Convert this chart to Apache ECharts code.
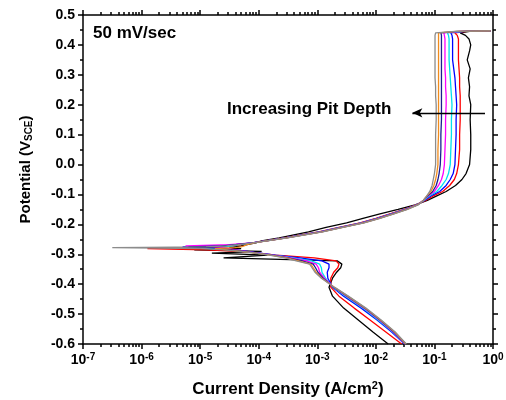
<!DOCTYPE html>
<html>
<head>
<meta charset="utf-8">
<script src="https://cdn.jsdelivr.net/npm/echarts@6/dist/echarts.min.js"></script>
<style>
	html, body { margin: 0; padding: 0; background: #fff; }
	#main { width: 506px; height: 400px; }
</style>
</head>
<body>
<div id="main"></div>
<script>
	'use strict';

	// potential (V vs SCE), same scan for every curve
	var potential = [-0.60, -0.56, -0.52, -0.48, -0.44, -0.41, -0.38, -0.36, -0.345, -0.333,
		-0.322, -0.312, -0.303, -0.296, -0.290, -0.285, -0.281, -0.278, -0.275, -0.272,
		-0.268, -0.262, -0.255, -0.245, -0.235, -0.225, -0.21, -0.195, -0.18, -0.165,
		-0.15, -0.135, -0.12, -0.105, -0.09, -0.07, -0.05, -0.03, 0.00, 0.05,
		0.10, 0.15, 0.20, 0.23, 0.26, 0.29, 0.32, 0.35, 0.38, 0.40,
		0.42, 0.432, 0.44, 0.445, 0.447];

	// log10 of current density (A/cm2)
	var logJBlack = [-1.79, -2.05, -2.30, -2.55, -2.74, -2.80, -2.74, -2.67, -2.60, -2.58,
		-2.66, -4.60, -3.85, -4.80, -3.95, -5.10, -4.30, -4.50, -4.40, -4.30,
		-4.20, -4.05, -3.95, -3.65, -3.40, -3.15, -2.85, -2.50, -2.22, -1.93,
		-1.62, -1.33, -1.12, -0.96, -0.80, -0.64, -0.53, -0.46, -0.40, -0.38,
		-0.38, -0.39, -0.38, -0.41, -0.40, -0.42, -0.39, -0.44, -0.40, -0.38,
		-0.41, -0.47, -0.56, -0.40, -0.04];
	var logJRed = [-1.56, -1.83, -2.10, -2.37, -2.63, -2.77, -2.77, -2.72, -2.65, -2.63,
		-2.68, -3.05, -3.70, -4.00, -4.30, -4.90, -5.90, -4.80, -4.55, -4.45,
		-4.30, -4.10, -3.90, -3.57, -3.28, -2.98, -2.63, -2.27, -2.00, -1.76,
		-1.52, -1.31, -1.15, -1.02, -0.86, -0.74, -0.66, -0.62, -0.59, -0.57,
		-0.57, -0.56, -0.56, -0.56, -0.57, -0.57, -0.58, -0.59, -0.59, -0.59,
		-0.59, -0.61, -0.65, -0.45, -0.04];
	var logJBlue = [-1.51, -1.73, -1.98, -2.25, -2.55, -2.74, -2.82, -2.83, -2.80, -2.80,
		-2.92, -3.30, -3.72, -3.98, -4.20, -4.40, -4.55, -4.80, -5.30, -4.65,
		-4.40, -4.10, -3.88, -3.55, -3.26, -2.96, -2.61, -2.25, -1.98, -1.74,
		-1.50, -1.30, -1.17, -1.06, -0.91, -0.80, -0.73, -0.68, -0.65, -0.64,
		-0.63, -0.63, -0.62, -0.63, -0.64, -0.65, -0.67, -0.69, -0.69, -0.69,
		-0.69, -0.70, -0.72, -0.48, -0.04];
	var logJCyan = [-1.50, -1.71, -1.96, -2.22, -2.52, -2.73, -2.86, -2.92, -2.93, -2.96,
		-3.10, -3.40, -3.74, -4.00, -4.25, -4.50, -4.70, -4.95, -4.60, -4.45,
		-4.35, -4.10, -3.88, -3.55, -3.25, -2.95, -2.60, -2.24, -1.97, -1.73,
		-1.50, -1.30, -1.18, -1.09, -0.96, -0.87, -0.80, -0.76, -0.73, -0.72,
		-0.71, -0.71, -0.70, -0.71, -0.72, -0.73, -0.74, -0.75, -0.75, -0.75,
		-0.75, -0.76, -0.78, -0.50, -0.04];
	var logJMagenta = [-1.50, -1.70, -1.94, -2.20, -2.50, -2.72, -2.88, -2.96, -2.98, -3.02,
		-3.18, -3.45, -3.75, -4.00, -4.22, -4.40, -4.50, -4.65, -4.90, -5.25,
		-4.50, -4.12, -3.87, -3.54, -3.24, -2.94, -2.59, -2.23, -1.96, -1.72,
		-1.49, -1.30, -1.19, -1.11, -1.00, -0.93, -0.88, -0.85, -0.83, -0.82,
		-0.81, -0.81, -0.80, -0.80, -0.81, -0.81, -0.82, -0.82, -0.82, -0.82,
		-0.82, -0.83, -0.84, -0.55, -0.04];
	var logJNavy = [-1.49, -1.69, -1.93, -2.19, -2.49, -2.72, -2.90, -2.99, -3.03, -3.07,
		-3.26, -3.50, -3.77, -4.02, -4.25, -4.45, -4.60, -4.85, -5.20, -4.60,
		-4.40, -4.12, -3.87, -3.53, -3.23, -2.93, -2.58, -2.22, -1.95, -1.71,
		-1.48, -1.29, -1.19, -1.12, -1.03, -0.97, -0.94, -0.92, -0.90, -0.89,
		-0.89, -0.88, -0.88, -0.88, -0.88, -0.88, -0.88, -0.88, -0.88, -0.88,
		-0.88, -0.88, -0.89, -0.60, -0.04];
	var logJOrange = [-1.49, -1.68, -1.92, -2.18, -2.48, -2.71, -2.92, -3.02, -3.07, -3.11,
		-3.32, -3.52, -3.80, -4.05, -4.30, -4.55, -4.75, -4.40, -4.30, -4.25,
		-4.20, -4.08, -3.86, -3.52, -3.22, -2.92, -2.57, -2.21, -1.94, -1.70,
		-1.47, -1.29, -1.19, -1.13, -1.06, -1.01, -0.98, -0.96, -0.94, -0.94,
		-0.93, -0.93, -0.93, -0.93, -0.93, -0.93, -0.93, -0.93, -0.93, -0.93,
		-0.93, -0.93, -0.93, -0.62, -0.04];
	var logJGray = [-1.48, -1.67, -1.91, -2.17, -2.47, -2.71, -2.93, -3.04, -3.09, -3.13,
		-3.36, -3.55, -3.82, -4.05, -4.30, -4.60, -5.00, -6.50, -4.90, -4.55,
		-4.35, -4.10, -3.86, -3.51, -3.21, -2.91, -2.56, -2.20, -1.93, -1.69,
		-1.46, -1.28, -1.19, -1.13, -1.08, -1.04, -1.02, -1.00, -0.98, -0.98,
		-0.98, -0.97, -0.97, -0.98, -0.98, -0.99, -0.99, -0.99, -0.99, -0.99,
		-0.99, -0.99, -0.98, -0.65, -0.04];

	var curves = [logJBlack, logJRed, logJBlue, logJCyan, logJMagenta, logJNavy, logJOrange, logJGray];
	var curveColors = ['#000000', '#ff0000', '#0000ff', '#00e0f0', '#ff00ff', '#1c1c8f', '#f08c1e', '#8c8c8c'];

	// x axis decades and the arrow annotation (current, potential)
	var decades = [1e-7, 1e-6, 1e-5, 1e-4, 1e-3, 1e-2, 1e-1, 1];
	var arrowFrom = [0.73, 0.173];
	var arrowTo = [0.042, 0.173];

	var minorTicks = [];
	for (var d = 0; d < decades.length - 1; d++) {
		for (var k = 2; k <= 9; k++) {
			minorTicks.push(decades[d] * k);
		}
	}

	var font = '"Liberation Sans", Arial, sans-serif';
	var tickStyle = { color: '#000', width: 1.5 };

	function xAxis(position, ticks, len, showLine, showLabel) {
		return {
			type: 'log',
			logBase: 10,
			min: 1e-7,
			max: 1,
			position: position,
			axisLine: { show: showLine, onZero: false, lineStyle: tickStyle },
			axisTick: { show: true, length: len, customValues: ticks, lineStyle: tickStyle },
			axisLabel: {
				show: showLabel,
				customValues: decades,
				margin: 8,
				fontFamily: font,
				formatter: function (v) {
					return '{b|10}{s|' + Math.round(Math.log10(v)) + '}';
				},
				rich: {
					b: { fontSize: 14, fontWeight: 'bold', color: '#000', fontFamily: font },
					s: { fontSize: 10, fontWeight: 'bold', color: '#000', fontFamily: font, verticalAlign: 'top', padding: [0, 0, 6, 0] }
				}
			},
			splitLine: { show: false },
			minorTick: { show: false }
		};
	}

	function yAxis(position, showLabel) {
		return {
			type: 'value',
			min: -0.6,
			max: 0.5,
			interval: 0.1,
			position: position,
			axisLine: { show: true, onZero: false, lineStyle: tickStyle },
			axisTick: { show: true, length: 5, lineStyle: tickStyle },
			minorTick: { show: true, splitNumber: 2, length: 3, lineStyle: tickStyle },
			axisLabel: {
				show: showLabel,
				margin: 8,
				color: '#000',
				fontSize: 14,
				fontWeight: 'bold',
				fontFamily: font,
				formatter: function (v) { return v.toFixed(1); }
			},
			splitLine: { show: false }
		};
	}

	var xAxes = [
		xAxis('bottom', decades, 5, true, true),
		xAxis('bottom', minorTicks, 3, false, false),
		xAxis('top', decades, 5, true, false),
		xAxis('top', minorTicks, 3, false, false)
	];
	xAxes[0].name = '{a|Current Density (A/cm}{s|2}{a|)}';
	xAxes[0].nameLocation = 'middle';
	xAxes[0].nameGap = 36;
	xAxes[0].nameTextStyle = {
		rich: {
			a: { fontSize: 17, fontWeight: 'bold', color: '#000', fontFamily: font },
			s: { fontSize: 11, fontWeight: 'bold', color: '#000', fontFamily: font, verticalAlign: 'top', padding: [0, 0, 7, 0] }
		}
	};

	var yAxes = [yAxis('left', true), yAxis('right', false)];
	yAxes[0].name = '{a|Potential (V}{b|SCE}{a|)}';
	yAxes[0].nameLocation = 'middle';
	yAxes[0].nameRotate = 90;
	yAxes[0].nameGap = 49;
	yAxes[0].nameTextStyle = {
		padding: [0, 0, 0, 20],
		rich: {
			a: { fontSize: 15, fontWeight: 'bold', color: '#000', fontFamily: font },
			b: { fontSize: 10, fontWeight: 'bold', color: '#000', fontFamily: font, verticalAlign: 'bottom', padding: [6, 0, 0, 0] }
		}
	};

	var series = curves.map(function (logJ, i) {
		return {
			type: 'line',
			xAxisIndex: 0,
			yAxisIndex: 0,
			showSymbol: false,
			symbol: 'none',
			smooth: false,
			color: curveColors[i],
			lineStyle: { color: curveColors[i], width: 1.3 },
			data: logJ.map(function (v, j) { return [Math.pow(10, v), potential[j]]; })
		};
	});

	series[series.length - 1].markLine = {
		silent: true,
		symbol: ['none', 'arrow'],
		symbolSize: [7, 10],
		label: { show: false },
		lineStyle: { color: '#000', width: 1.3, type: 'solid' },
		data: [[{ coord: arrowFrom }, { coord: arrowTo }]]
	};

	var option = {
		animation: false,
		backgroundColor: '#fff',
		grid: { left: 83, right: 13, top: 15, bottom: 56, outerBoundsMode: 'none', containLabel: false },
		xAxis: xAxes,
		yAxis: yAxes,
		series: series,
		graphic: [
			{
				type: 'text',
				left: 93,
				top: 25,
				style: { text: '50 mV/sec', fontSize: 17, fontWeight: 'bold', fill: '#000', fontFamily: font }
			},
			{
				type: 'text',
				left: 227,
				top: 101,
				style: { text: 'Increasing Pit Depth', fontSize: 17, fontWeight: 'bold', fill: '#000', fontFamily: font }
			}
		]
	};

	var chart = echarts.init(document.getElementById('main'));
	chart.setOption(option);
</script>
</body>
</html>
